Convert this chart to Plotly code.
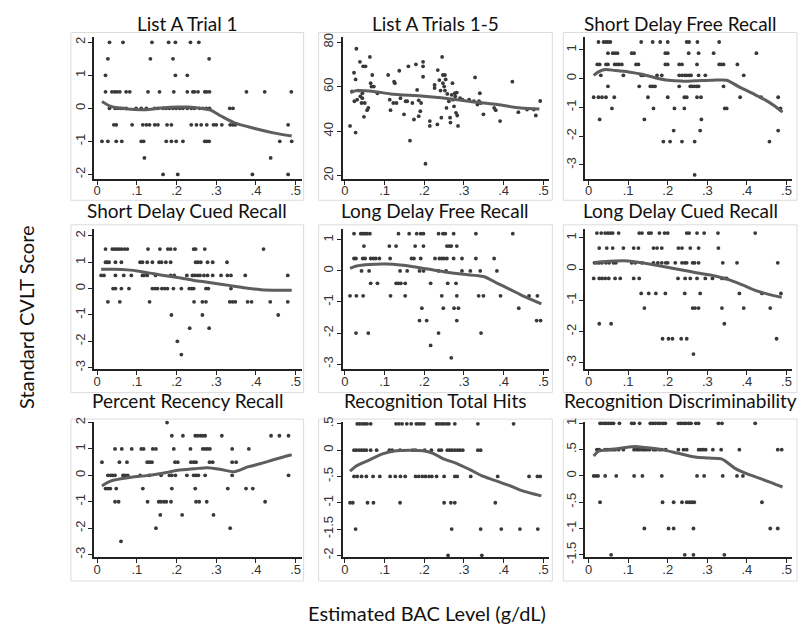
import plotly.graph_objects as go

# ---------------- data ----------------
titles = ["List A Trial 1", "List A Trials 1-5", "Short Delay Free Recall",
          "Short Delay Cued Recall", "Long Delay Free Recall", "Long Delay Cued Recall",
          "Percent Recency Recall", "Recognition Total Hits", "Recognition Discriminability"]

bac_ticks = [0, 0.1, 0.2, 0.3, 0.4, 0.5]
bac_tick_text = ["0", ".1", ".2", ".3", ".4", ".5"]

# score row -> list of estimated BAC values
p1_rows = {
    2: [0.031, 0.065, 0.138, 0.180, 0.197, 0.235, 0.256],
    1.5: [0.027, 0.134, 0.191, 0.282],
    1: [0.021, 0.197, 0.227],
    0.5: [0.021, 0.037, 0.044, 0.050, 0.057, 0.073, 0.082, 0.128, 0.157, 0.193, 0.227, 0.241, 0.245,
          0.254, 0.271, 0.276, 0.283, 0.376, 0.422, 0.489],
    0: [0.031, 0.045, 0.052, 0.059, 0.065, 0.073, 0.098, 0.111, 0.124, 0.145, 0.153, 0.166, 0.174,
        0.182, 0.191, 0.199, 0.208, 0.216, 0.227, 0.237, 0.245, 0.258, 0.266, 0.275, 0.283, 0.334, 0.342],
    -0.5: [0.042, 0.048, 0.088, 0.115, 0.124, 0.132, 0.145, 0.153, 0.176, 0.187, 0.237, 0.250, 0.262,
           0.276, 0.293, 0.300, 0.314, 0.335, 0.342, 0.348, 0.481],
    -1: [0.012, 0.027, 0.048, 0.062, 0.111, 0.117, 0.174, 0.187, 0.199, 0.216, 0.271, 0.276, 0.282,
         0.460, 0.490],
    -1.5: [0.119, 0.437],
    -2: [0.166, 0.203, 0.391, 0.481],
}
p1_fit_x = [0.012, 0.035, 0.077, 0.119, 0.161, 0.203, 0.229, 0.262, 0.287, 0.313, 0.346, 0.397, 0.447, 0.490]
p1_fit_y = [0.21, 0.06, -0.02, -0.04, 0.01, 0.04, 0.04, 0.0, -0.06, -0.24, -0.44, -0.61, -0.75, -0.84]

p2_points = [
    (0.013, 42.4), (0.018, 57.9), (0.023, 66.3), (0.024, 53.5), (0.027, 63.3), (0.027, 39.4),
    (0.029, 77.1), (0.031, 54.2), (0.035, 58.3), (0.038, 71.2), (0.039, 55.7), (0.042, 52.7),
    (0.044, 54.9), (0.046, 69.2), (0.044, 57.1), (0.048, 46.5), (0.052, 69.2), (0.050, 52.7),
    (0.056, 49.5), (0.059, 50.5), (0.063, 73.4), (0.065, 61.6), (0.067, 60.1), (0.069, 65.3),
    (0.073, 60.1), (0.082, 57.1), (0.109, 65.3), (0.113, 54.2), (0.115, 49.5), (0.124, 62.3),
    (0.126, 61.6), (0.130, 52.7), (0.122, 52.7), (0.137, 67.2), (0.140, 54.9), (0.149, 47.6),
    (0.153, 53.5), (0.157, 53.5), (0.160, 69.2), (0.164, 35.8), (0.170, 52.7), (0.174, 45.3),
    (0.179, 70.1), (0.182, 58.6), (0.186, 53.9), (0.186, 46.8), (0.192, 52.7), (0.190, 49.0),
    (0.197, 71.2), (0.197, 69.2), (0.197, 64.5), (0.203, 25.4), (0.214, 44.6), (0.214, 42.4),
    (0.226, 59.4), (0.226, 60.8), (0.233, 43.1), (0.234, 67.5), (0.238, 63.0), (0.241, 58.3),
    (0.243, 46.1), (0.245, 73.4), (0.247, 65.3), (0.247, 61.6), (0.250, 60.1), (0.252, 65.3),
    (0.252, 58.3), (0.254, 63.3), (0.256, 50.5), (0.258, 56.8), (0.262, 53.5), (0.265, 46.1),
    (0.266, 43.9), (0.269, 56.4), (0.271, 61.6), (0.272, 54.2), (0.275, 51.2), (0.277, 57.1),
    (0.278, 55.7), (0.280, 48.3), (0.282, 57.4), (0.283, 47.1), (0.285, 42.4), (0.290, 54.9),
    (0.296, 54.2), (0.313, 54.2), (0.325, 53.5), (0.328, 64.2), (0.334, 52.0), (0.338, 53.5),
    (0.340, 57.1), (0.342, 52.7), (0.349, 47.6), (0.376, 50.5), (0.380, 49.5), (0.391, 44.6),
    (0.422, 62.3), (0.437, 48.6), (0.459, 49.8), (0.476, 49.8), (0.481, 47.1), (0.492, 53.6),
]
p2_fit_x = [0.014, 0.031, 0.073, 0.115, 0.199, 0.283, 0.334, 0.384, 0.443, 0.490]
p2_fit_y = [57.4, 58.3, 57.9, 56.8, 55.7, 54.2, 53.0, 52.0, 50.5, 50.0]

p3_rows = {
    1.27: [0.025, 0.038, 0.044, 0.049, 0.055, 0.133, 0.162, 0.181, 0.200, 0.248, 0.254, 0.275, 0.330],
    0.88: [0.049, 0.061, 0.067, 0.073, 0.109, 0.115, 0.194, 0.200, 0.253, 0.278, 0.316, 0.424],
    0.49: [0.022, 0.028, 0.044, 0.049, 0.066, 0.072, 0.077, 0.084, 0.120, 0.126, 0.194, 0.200, 0.229,
           0.236, 0.274, 0.330, 0.335, 0.341, 0.376],
    0.11: [0.031, 0.088, 0.133, 0.139, 0.173, 0.185, 0.229, 0.236, 0.243, 0.248, 0.254, 0.259, 0.278,
           0.295, 0.392],
    -0.27: [0.049, 0.128, 0.156, 0.162, 0.168, 0.229, 0.257, 0.261, 0.267, 0.273, 0.278, 0.341],
    -0.65: [0.013, 0.025, 0.034, 0.044, 0.065, 0.150, 0.200, 0.242, 0.248, 0.274, 0.284, 0.383, 0.436, 0.479],
    -1.04: [0.059, 0.164, 0.217, 0.242, 0.344, 0.349, 0.485],
    -1.42: [0.028, 0.141, 0.285],
    -1.81: [0.215, 0.282, 0.479],
    -2.19: [0.189, 0.206, 0.236, 0.268, 0.457],
    -3.35: [0.268],
}
p3_fit_x = [0.013, 0.025, 0.042, 0.067, 0.101, 0.135, 0.168, 0.202, 0.236, 0.269, 0.312, 0.349, 0.379,
            0.413, 0.446, 0.472, 0.490]
p3_fit_y = [0.11, 0.23, 0.31, 0.28, 0.23, 0.15, 0.03, -0.06, -0.09, -0.08, -0.06, -0.06, -0.28,
            -0.51, -0.74, -0.97, -1.17]

p4_rows = {
    1.5: [0.021, 0.038, 0.044, 0.049, 0.055, 0.061, 0.069, 0.076, 0.128, 0.158, 0.178, 0.185, 0.196,
          0.243, 0.248, 0.271, 0.419],
    1: [0.021, 0.025, 0.030, 0.046, 0.061, 0.108, 0.114, 0.126, 0.139, 0.156, 0.162, 0.173, 0.185,
        0.248, 0.254, 0.261, 0.278, 0.291, 0.327],
    0.5: [0.010, 0.017, 0.046, 0.067, 0.086, 0.114, 0.118, 0.126, 0.147, 0.185, 0.194, 0.226, 0.240,
          0.246, 0.253, 0.259, 0.269, 0.278, 0.291, 0.312, 0.328, 0.337, 0.373, 0.480],
    0: [0.040, 0.046, 0.061, 0.080, 0.139, 0.146, 0.152, 0.163, 0.170, 0.177, 0.192, 0.212, 0.232,
        0.238, 0.243, 0.274, 0.280, 0.337],
    -0.5: [0.027, 0.057, 0.132, 0.244, 0.265, 0.274, 0.334, 0.341, 0.348, 0.379, 0.389, 0.436, 0.480],
    -1: [0.187, 0.265, 0.456],
    -1.5: [0.233, 0.282],
    -2: [0.202],
    -2.5: [0.212],
}
p4_fit_x = [0.010, 0.042, 0.076, 0.109, 0.143, 0.177, 0.211, 0.244, 0.278, 0.320, 0.345, 0.379, 0.413, 0.455, 0.490]
p4_fit_y = [0.73, 0.73, 0.71, 0.65, 0.56, 0.48, 0.40, 0.31, 0.24, 0.15, 0.09, 0.01, -0.04, -0.06, -0.06]

p5_rows = {
    1.2: [0.023, 0.040, 0.045, 0.051, 0.056, 0.063, 0.135, 0.162, 0.181, 0.191, 0.198, 0.236, 0.247,
          0.253, 0.274, 0.330, 0.423],
    0.8: [0.048, 0.112, 0.129, 0.177, 0.198, 0.257, 0.263, 0.268, 0.282],
    0.4: [0.023, 0.028, 0.045, 0.051, 0.065, 0.072, 0.078, 0.087, 0.114, 0.168, 0.174, 0.191, 0.227,
          0.238, 0.244, 0.250, 0.257, 0.274, 0.295, 0.330, 0.376],
    0: [0.042, 0.061, 0.139, 0.157, 0.188, 0.198, 0.236, 0.255, 0.295, 0.316, 0.341, 0.383],
    -0.4: [0.065, 0.082, 0.129, 0.135, 0.141, 0.152, 0.216, 0.259, 0.280],
    -0.8: [0.013, 0.029, 0.046, 0.115, 0.152, 0.244, 0.282, 0.337, 0.349, 0.392, 0.464, 0.485],
    -1.2: [0.194, 0.248, 0.275, 0.286, 0.438],
    -1.6: [0.188, 0.206, 0.282, 0.483, 0.493],
    -2.0: [0.028, 0.059, 0.236, 0.343],
    -2.4: [0.216],
    -2.8: [0.268],
}
p5_fit_x = [0.013, 0.029, 0.063, 0.105, 0.139, 0.181, 0.223, 0.257, 0.299, 0.349, 0.383, 0.417, 0.442, 0.495]
p5_fit_y = [0.08, 0.16, 0.21, 0.22, 0.19, 0.12, 0.03, -0.04, -0.11, -0.18, -0.39, -0.60, -0.76, -1.06]

p6_rows = {
    1.15: [0.021, 0.032, 0.042, 0.049, 0.055, 0.061, 0.076, 0.128, 0.135, 0.152, 0.158, 0.179, 0.192,
           0.200, 0.248, 0.254, 0.274, 0.292, 0.327, 0.421],
    0.67: [0.027, 0.046, 0.061, 0.088, 0.114, 0.126, 0.164, 0.173, 0.185, 0.227, 0.236, 0.257, 0.278, 0.328],
    0.2: [0.015, 0.021, 0.027, 0.034, 0.044, 0.052, 0.063, 0.069, 0.109, 0.118, 0.135, 0.164, 0.175,
          0.185, 0.195, 0.200, 0.219, 0.236, 0.243, 0.248, 0.263, 0.268, 0.278, 0.339, 0.375, 0.478],
    -0.3: [0.013, 0.027, 0.034, 0.042, 0.051, 0.067, 0.080, 0.114, 0.128, 0.226, 0.244, 0.257, 0.274,
           0.295, 0.313, 0.337, 0.344, 0.349],
    -0.78: [0.133, 0.152, 0.170, 0.194, 0.243, 0.282, 0.381, 0.438, 0.486],
    -1.25: [0.141, 0.263, 0.269, 0.278, 0.337, 0.392, 0.459],
    -1.75: [0.027, 0.057, 0.343],
    -2.23: [0.187, 0.202, 0.212, 0.234, 0.248, 0.475],
    -2.72: [0.265],
}
p6_fit_x = [0.013, 0.034, 0.067, 0.101, 0.135, 0.168, 0.202, 0.236, 0.269, 0.320, 0.354, 0.387, 0.421, 0.455, 0.488]
p6_fit_y = [0.20, 0.23, 0.26, 0.26, 0.20, 0.13, 0.05, -0.03, -0.11, -0.22, -0.34, -0.50, -0.68, -0.81, -0.90]

p7_rows = {
    2: [0.176],
    1.5: [0.188, 0.216, 0.247, 0.253, 0.260, 0.266, 0.272, 0.314, 0.438, 0.459, 0.482],
    1: [0.045, 0.062, 0.087, 0.111, 0.117, 0.140, 0.148, 0.193, 0.235, 0.266, 0.272, 0.278, 0.284,
        0.340, 0.382],
    0.5: [0.012, 0.056, 0.075, 0.126, 0.132, 0.138, 0.196, 0.203, 0.236, 0.243, 0.249, 0.283, 0.291,
          0.340, 0.350],
    0: [0.027, 0.034, 0.039, 0.045, 0.065, 0.070, 0.077, 0.108, 0.132, 0.161, 0.182, 0.188, 0.197,
        0.226, 0.243, 0.249, 0.255, 0.272, 0.340, 0.482],
    -0.5: [0.021, 0.027, 0.033, 0.048, 0.115, 0.188, 0.247, 0.329, 0.375, 0.392],
    -1: [0.045, 0.054, 0.127, 0.155, 0.161, 0.168, 0.174, 0.186, 0.249, 0.257, 0.276, 0.423],
    -1.5: [0.159, 0.214, 0.293],
    -2: [0.148, 0.335],
    -2.5: [0.060],
}
p7_fit_x = [0.012, 0.035, 0.077, 0.119, 0.161, 0.203, 0.245, 0.278, 0.312, 0.345, 0.379, 0.413, 0.446, 0.490]
p7_fit_y = [-0.40, -0.21, -0.09, -0.02, 0.07, 0.19, 0.25, 0.29, 0.22, 0.14, 0.32, 0.45, 0.60, 0.78]

p8_rows = {
    0.5: [0.031, 0.037, 0.044, 0.050, 0.056, 0.065, 0.129, 0.136, 0.144, 0.156, 0.167, 0.180, 0.186,
          0.192, 0.199, 0.231, 0.236, 0.243, 0.249, 0.256, 0.262, 0.277, 0.335, 0.425],
    0: [0.023, 0.029, 0.036, 0.042, 0.048, 0.054, 0.065, 0.080, 0.112, 0.119, 0.139, 0.171, 0.178,
        0.201, 0.218, 0.237, 0.243, 0.258, 0.264, 0.270, 0.277, 0.284, 0.290, 0.297, 0.335, 0.342],
    -0.5: [0.023, 0.031, 0.042, 0.054, 0.071, 0.088, 0.114, 0.127, 0.140, 0.152, 0.178, 0.186, 0.195,
           0.203, 0.212, 0.219, 0.231, 0.250, 0.277, 0.283, 0.317, 0.385, 0.464, 0.485, 0.492],
    -1: [0.013, 0.020, 0.057, 0.072, 0.139, 0.250, 0.267, 0.277, 0.379],
    -1.5: [0.027, 0.269, 0.342, 0.394, 0.441, 0.486],
    -2: [0.260, 0.345],
}
p8_fit_x = [0.013, 0.027, 0.061, 0.095, 0.129, 0.163, 0.197, 0.222, 0.247, 0.281, 0.315, 0.349, 0.383,
            0.417, 0.442, 0.495]
p8_fit_y = [-0.40, -0.31, -0.19, -0.07, -0.01, 0.0, -0.01, -0.06, -0.16, -0.25, -0.37, -0.50, -0.59,
            -0.68, -0.76, -0.87]

p9_rows = {
    1: [0.029, 0.034, 0.040, 0.045, 0.051, 0.057, 0.063, 0.078, 0.109, 0.115, 0.129, 0.156, 0.162,
        0.168, 0.175, 0.181, 0.188, 0.194, 0.227, 0.233, 0.240, 0.246, 0.253, 0.259, 0.271, 0.278,
        0.328, 0.337, 0.421],
    0.5: [0.021, 0.027, 0.042, 0.049, 0.055, 0.061, 0.067, 0.076, 0.088, 0.115, 0.122, 0.128, 0.135,
          0.141, 0.147, 0.154, 0.164, 0.170, 0.179, 0.185, 0.195, 0.227, 0.240, 0.248, 0.278, 0.284,
          0.290, 0.296, 0.314, 0.335, 0.381, 0.478, 0.488],
    0: [0.013, 0.019, 0.024, 0.042, 0.070, 0.115, 0.136, 0.185, 0.274, 0.292, 0.339, 0.375, 0.390],
    -0.5: [0.029, 0.187, 0.215, 0.236, 0.248, 0.255, 0.261, 0.267, 0.438],
    -1: [0.141, 0.202, 0.215, 0.265, 0.459, 0.478],
    -1.5: [0.057, 0.243, 0.265, 0.343],
}
p9_fit_x = [0.013, 0.025, 0.051, 0.084, 0.118, 0.143, 0.185, 0.227, 0.269, 0.303, 0.337, 0.371, 0.404,
            0.438, 0.472, 0.490]
p9_fit_y = [0.38, 0.47, 0.50, 0.53, 0.56, 0.54, 0.50, 0.43, 0.36, 0.34, 0.32, 0.14, 0.03, -0.06,
            -0.16, -0.21]

y_tick_vals = [
    [-2, -1, 0, 1, 2], [20, 40, 60, 80], [-3, -2, -1, 0, 1],
    [-3, -2, -1, 0, 1, 2], [-3, -2, -1, 0, 1], [-3, -2, -1, 0, 1],
    [-3, -2, -1, 0, 1, 2], [-2, -1.5, -1, -0.5, 0, 0.5], [-1.5, -1, -0.5, 0, 0.5, 1],
]
y_tick_text = [
    ["-2", "-1", "0", "1", "2"], ["20", "40", "60", "80"], ["-3", "-2", "-1", "0", "1"],
    ["-3", "-2", "-1", "0", "1", "2"], ["-3", "-2", "-1", "0", "1"], ["-3", "-2", "-1", "0", "1"],
    ["-3", "-2", "-1", "0", "1", "2"], ["-2", "-1.5", "-1", "-.5", "0", ".5"],
    ["-1.5", "-1", "-.5", "0", ".5", "1"],
]

# ---------------- layout geometry ----------------
W, H = 803, 640
col_px = [(93, 301), (342, 549), (585, 792)]
row_px = [(33, 177), (228, 371), (425, 563)]
box_x = [(70, 303), (318, 552), (563, 797)]
box_y = [(28, 199), (224, 395), (422, 587)]
title_y = [19, 209, 403]
x_ranges = [[-0.0083, 0.515], [-0.0058, 0.515], [-0.0083, 0.514]]
y_ranges = [[-2.13, 2.15], [18.7, 82.2], [-3.48, 1.43],
            [-3.05, 2.27], [-3.16, 1.36], [-3.20, 1.29],
            [-3.11, 2.02], [-2.04, 0.535], [-1.55, 1.025]]


def expand(rows):
    xs, ys = [], []
    for score, bacs in rows.items():
        for b in bacs:
            xs.append(b)
            ys.append(score)
    return xs, ys


p2_x = [p[0] for p in p2_points]
p2_y = [p[1] for p in p2_points]

scatter_data = [expand(p1_rows), (p2_x, p2_y), expand(p3_rows),
                expand(p4_rows), expand(p5_rows), expand(p6_rows),
                expand(p7_rows), expand(p8_rows), expand(p9_rows)]
fit_data = [(p1_fit_x, p1_fit_y), (p2_fit_x, p2_fit_y), (p3_fit_x, p3_fit_y),
            (p4_fit_x, p4_fit_y), (p5_fit_x, p5_fit_y), (p6_fit_x, p6_fit_y),
            (p7_fit_x, p7_fit_y), (p8_fit_x, p8_fit_y), (p9_fit_x, p9_fit_y)]

fig = go.Figure()
layout = dict(width=W, height=H, margin=dict(l=0, r=0, t=0, b=0),
              paper_bgcolor="white", plot_bgcolor="white", showlegend=False)
shapes, annotations = [], []

axis_col = "#222222"
tick_font = dict(family="Liberation Sans, Arial, sans-serif", size=13, color="#333333")

for i in range(9):
    r, c = divmod(i, 3)
    n = "" if i == 0 else str(i + 1)
    xa, ya = "x" + n, "y" + n
    sx, sy = scatter_data[i]
    fx, fy = fit_data[i]
    fig.add_trace(go.Scatter(x=sx, y=sy, mode="markers", xaxis=xa, yaxis=ya,
                             marker=dict(size=3.8, color="#383838"), cliponaxis=False))
    fig.add_trace(go.Scatter(x=fx, y=fy, mode="lines", xaxis=xa, yaxis=ya,
                             line=dict(color="#5e5e5e", width=3, shape="spline", smoothing=0.8)))
    x0, x1 = col_px[c]
    yt, yb = row_px[r]
    layout["xaxis" + n] = dict(
        domain=[x0 / W, x1 / W], anchor=ya, range=x_ranges[c],
        tickvals=bac_ticks, ticktext=bac_tick_text, ticks="outside", ticklen=4,
        tickwidth=1.3, tickcolor=axis_col, showline=True, linewidth=2, linecolor=axis_col,
        showgrid=False, zeroline=False, tickfont=tick_font, fixedrange=True,
        ticklabelstandoff=-5)
    layout["yaxis" + n] = dict(
        domain=[1 - yb / H, 1 - yt / H], anchor=xa, range=y_ranges[i],
        tickvals=y_tick_vals[i], ticktext=y_tick_text[i], tickangle=-90,
        ticks="outside", ticklen=4, tickwidth=1.3, tickcolor=axis_col,
        showline=True, linewidth=2, linecolor=axis_col,
        showgrid=False, zeroline=False, tickfont=tick_font, fixedrange=True,
        ticklabelstandoff=-2)
    bx0, bx1 = box_x[c]
    by0, by1 = box_y[r]
    shapes.append(dict(type="rect", xref="paper", yref="paper",
                       x0=bx0 / W, x1=bx1 / W, y0=1 - by1 / H, y1=1 - by0 / H,
                       line=dict(color="#dcdcdc", width=1), layer="below"))
    annotations.append(dict(text=titles[i], xref="paper", yref="paper",
                            x=(bx0 + bx1) / 2 / W, y=1 - title_y[r] / H,
                            xanchor="center", yanchor="middle", showarrow=False,
                            font=dict(family="Lato, Open Sans, sans-serif", size=19, color="#111111")))

annotations.append(dict(text="Standard CVLT Score", xref="paper", yref="paper",
                        x=25 / W, y=1 - 318 / H, textangle=-90, showarrow=False,
                        xanchor="center", yanchor="middle",
                        font=dict(family="Lato, Open Sans, sans-serif", size=20, color="#111111")))
annotations.append(dict(text="Estimated BAC Level (g/dL)", xref="paper", yref="paper",
                        x=427 / W, y=1 - 620 / H, showarrow=False,
                        xanchor="center", yanchor="middle",
                        font=dict(family="Lato, Open Sans, sans-serif", size=20, color="#111111")))

layout["shapes"] = shapes
layout["annotations"] = annotations
fig.update_layout(**layout)
fig.write_html("out.html", config={"displayModeBar": False},
               post_script="document.body.style.margin='0';document.body.style.overflow='hidden';")
